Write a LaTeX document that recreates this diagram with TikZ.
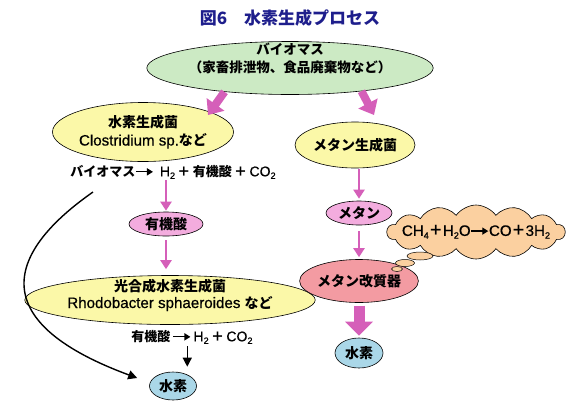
\documentclass[tikz,border=0pt]{standalone}
\usepackage{fontspec}
\setmainfont{Liberation Sans}[Scale=1.08, FakeBold=0.6]
\newfontfamily\jp{Noto Sans CJK JP}
\usetikzlibrary{arrows.meta,shapes.geometric,shapes.symbols,calc}
\definecolor{pinkarrow}{RGB}{213,95,185}
\definecolor{titleblue}{RGB}{30,30,140}
\definecolor{bioGreen}{RGB}{204,234,196}
\definecolor{paleYellow}{RGB}{251,248,168}
\definecolor{paleMagenta}{RGB}{243,172,222}
\definecolor{salmon}{RGB}{243,155,162}
\definecolor{paleBlue}{RGB}{170,215,232}
\definecolor{cloudc}{RGB}{251,208,160}
\newcommand\J[1]{{\jp\bfseries #1}}
\newcommand\sub[1]{\raisebox{-0.35ex}{\fontsize{8.5}{9}\selectfont #1}}
\newcommand\rarr{\tikz[baseline=-0.6ex]\draw[line width=1.3pt,-{Triangle[length=6pt,width=7pt]}] (0pt,0pt) -- (17pt,0pt);}
\begin{document}
\begin{tikzpicture}[x=1pt,y=-1pt,
  every node/.style={font=\fontsize{14}{18}\selectfont},
  oval/.style={ellipse, draw=black, line width=0.6pt, inner sep=0pt, align=center},
  pinkline/.style={draw=pinkarrow, line width=2pt, -{Triangle[length=9pt,width=11pt]}},
  fatarrow/.style={draw=pinkarrow, line width=8pt, -{Triangle[length=13pt,width=21pt]}},
  fatterarrow/.style={draw=pinkarrow, line width=11pt, -{Triangle[length=14pt,width=27pt]}},
  blackarrow/.style={draw=black, line width=1.4pt, -{Triangle[length=9pt,width=9pt]}},
]
\useasboundingbox (0,0) rectangle (580,410);
\fill[white] (0,0) rectangle (580,410);

% title
\node[font=\fontsize{17}{19}\selectfont, text=titleblue] (title) at (290,18) {\J{図6　水素生成プロセス}};

% top biomass
\node[oval, fill=bioGreen, minimum width=255pt, minimum height=53pt, font=\fontsize{13.5}{18}\selectfont,
      text height=21pt, text depth=12pt] (bio) at (290,68)
  {\J{バイオマス}\\\J{（家畜排泄物、食品廃棄物など）}};

% left branch
\node[oval, fill=paleYellow, minimum width=147pt, minimum height=59pt] (clos) at (143,132)
  {\J{水素生成菌}\\Clostridium sp.\J{など}};
\node[font=\fontsize{13}{16}\selectfont, inner sep=1pt] (eq1) at (173,172)
  {\J{バイオマス}\rarr\, H\sub{2}\,\J{＋}\,\J{有機酸}\,\J{＋}\,CO\sub{2}};
\node[oval, fill=paleMagenta, minimum width=74pt, minimum height=24pt] (yuki) at (166,224) {\J{有機酸}};
\node[oval, fill=paleYellow, minimum width=226pt, minimum height=49pt, font=\fontsize{14}{17}\selectfont,
      text height=24pt, text depth=8pt] (rhodo) at (170,300)
  {\J{光合成水素生成菌}\\Rhodobacter sphaeroides \J{など}};
\node[font=\fontsize{13}{16}\selectfont, inner sep=1pt] (eq2) at (192,337)
  {\J{有機酸}\,\rarr\,H\sub{2}\,\J{＋}\,CO\sub{2}};
\node[oval, fill=paleBlue, minimum width=47pt, minimum height=28pt] (h2a) at (173,386) {\J{水素}};

% right branch
\node[oval, fill=paleYellow, minimum width=120pt, minimum height=46pt] (meth) at (355,145) {\J{メタン生成菌}};
\node[oval, fill=paleMagenta, minimum width=66pt, minimum height=24pt] (methane) at (359,213) {\J{メタン}};
\node[oval, fill=salmon, minimum width=118pt, minimum height=43pt] (reformer) at (359,281) {\J{メタン改質器}};
\node[oval, fill=paleBlue, minimum width=48pt, minimum height=30pt] (h2b) at (359,353) {\J{水素}};

% cloud
\node[cloud, cloud puffs=14, cloud puff arc=110, aspect=3.4, draw=black, line width=0.6pt, fill=cloudc,
      minimum width=178pt, minimum height=54pt, inner sep=0pt] (cloud) at (476,232) {};
\node[inner sep=0pt] (cloudtext) at (cloud.center) {CH\sub{4}\J{＋}H\sub{2}O\rarr CO\J{＋}3H\sub{2}};
\node[ellipse, draw=black, line width=0.5pt, fill=cloudc, minimum width=26pt, minimum height=8pt, inner sep=0pt] (bub1) at (420,256) {};
\node[ellipse, draw=black, line width=0.5pt, fill=cloudc, minimum width=19pt, minimum height=7pt, inner sep=0pt] (bub2) at (405,263) {};
\node[ellipse, draw=black, line width=0.5pt, fill=cloudc, minimum width=11pt, minimum height=5pt, inner sep=0pt] (bub3) at (397,269) {};

% connectors
\draw[fatarrow] (bio.200) -- ($(clos.center)+(65,-17)$);
\draw[fatarrow] (bio.342) -- ($(meth.center)+(19,-30)$);

\draw[pinkline, shorten >=1pt] (yuki.north |- eq1.south) -- (yuki.north);
\draw[pinkline, shorten <=4pt, shorten >=6pt] (yuki.south) -- (yuki.south |- rhodo.north);
\draw[pinkline, shorten <=1pt, shorten >=2pt] (methane.north |- meth.south) -- (methane.north);
\draw[pinkline, shorten <=6pt, shorten >=2pt] (methane.south) -- (reformer.north);
\draw[fatterarrow, shorten <=3pt, shorten >=2pt] (reformer.south) -- (h2b.north);

\coordinate (eq2arr) at ($(eq2.south west)+(57,0)$);
\draw[blackarrow, shorten <=1pt, shorten >=5pt] (eq2arr) -- (eq2arr |- h2a.north);

\coordinate (cstart) at (93,192);
\draw[blackarrow] (cstart) .. controls (10,250) and (-20,320) .. ($(h2a.west)+(-12,-8)$);
\end{tikzpicture}
\end{document}
